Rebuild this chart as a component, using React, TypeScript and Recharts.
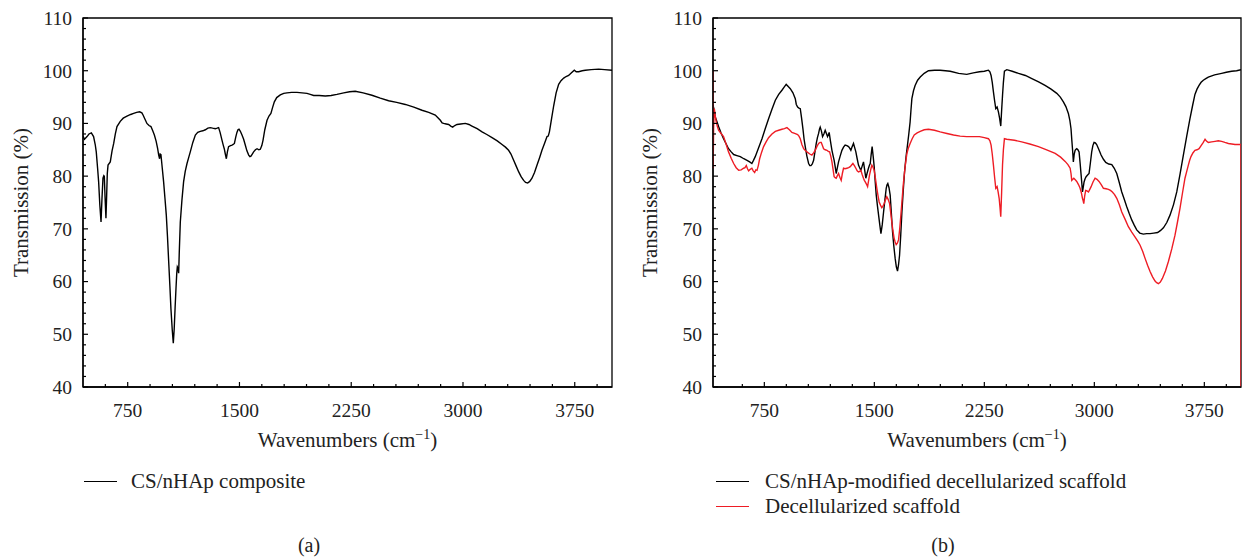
import React from 'react';
import { LineChart, Line, XAxis, YAxis, ReferenceArea } from 'recharts';

const FONT = '"Liberation Serif", "Times New Roman", Times, serif';
const TEXT = '#222';

// ---------- tick values ----------
const xTicks = [600, 750, 900, 1050, 1200, 1350, 1500, 1650, 1800, 1950, 2100, 2250, 2400, 2550, 2700, 2850, 3000, 3150, 3300, 3450, 3600, 3750, 3900];
const xMajorTicks = [750, 1500, 2250, 3000, 3750];
const yTicks = [40, 42, 44, 46, 48, 50, 52, 54, 56, 58, 60, 62, 64, 66, 68, 70, 72, 74, 76, 78, 80, 82, 84, 86, 88, 90, 92, 94, 96, 98, 100, 102, 104, 106, 108, 110];
const yMajorTicks = [40, 50, 60, 70, 80, 90, 100, 110];

// ---------- panel (a): CS/nHAp composite ----------
const compositeWavenumber = [
  450, 460, 477, 490, 506, 521, 532, 539, 548, 555, 563, 571, 577, 584, 590, 593, 598, 604, 609, 613, 618, 633, 645, 656, 667, 678, 700, 720, 745, 770, 790, 810, 830, 845, 853, 866, 879, 893, 906, 918, 929, 941, 951, 958, 964, 968, 973, 982, 991, 1000, 1009, 1017, 1025, 1033, 1040, 1049, 1056, 1062, 1068, 1074, 1079, 1083, 1088, 1092, 1096, 1103, 1114, 1125, 1136, 1148, 1160, 1170, 1187, 1204, 1220, 1237, 1254, 1271, 1288, 1304, 1320, 1338, 1350, 1360, 1370, 1383, 1392, 1398, 1405, 1412, 1419, 1427, 1440, 1450, 1458, 1466, 1475, 1483, 1490, 1497, 1506, 1517, 1528, 1539, 1550, 1562, 1570, 1577, 1586, 1595, 1607, 1618, 1630, 1640, 1650, 1658, 1670, 1685, 1698, 1711, 1722, 1734, 1750, 1774, 1797, 1819, 1850, 1886, 1920, 1953, 1975, 1998, 2035, 2076, 2115, 2154, 2200, 2239, 2277, 2330, 2389, 2445, 2501, 2555, 2613, 2670, 2725, 2770, 2814, 2835, 2848, 2860, 2870, 2887, 2904, 2918, 2931, 2945, 2960, 2985, 3016, 3040, 3060, 3095, 3128, 3160, 3195, 3230, 3262, 3285, 3306, 3322, 3340, 3357, 3374, 3390, 3407, 3420, 3434, 3448, 3463, 3480, 3497, 3514, 3530, 3547, 3564, 3572, 3580, 3595, 3609, 3625, 3642, 3658, 3676, 3692, 3709, 3728, 3747, 3760, 3776, 3800, 3821, 3860, 3911, 3950, 4000,
];
const compositeTransmission = [
  87.6, 87.0, 87.5, 88.0, 88.2, 87.5, 86.0, 84.6, 81.5, 78.9, 74.5, 71.3, 75.5, 79.6, 80.1, 80.0, 76.0, 72.0, 76.5, 80.5, 82.1, 82.7, 84.8, 86.2, 88.0, 89.4, 90.4, 91.0, 91.4, 91.7, 91.9, 92.1, 92.2, 92.0, 91.6, 90.8, 90.0, 89.6, 89.4, 88.6, 87.8, 86.6, 85.2, 84.0, 83.3, 84.2, 84.1, 81.5, 78.9, 75.8, 72.6, 68.5, 63.8, 59.2, 54.9, 50.8, 48.3, 51.0, 55.0, 58.7, 61.5, 62.8, 62.5, 61.6, 65.5, 71.3, 75.5, 78.9, 80.9, 82.4, 83.6, 84.6, 86.4, 87.8, 88.3, 88.5, 88.6, 88.8, 89.1, 89.2, 89.1, 89.0, 89.1, 89.2, 88.3, 86.8, 85.8, 85.2, 84.2, 83.3, 84.6, 85.6, 85.8, 85.9, 86.0, 86.2, 87.4, 88.3, 88.8, 88.9, 88.5, 87.8, 87.0, 85.9, 84.8, 84.0, 83.7, 83.8, 84.2, 84.6, 85.0, 85.2, 85.0, 85.1, 85.8, 86.8, 88.8, 90.6, 91.4, 91.9, 93.0, 94.1, 94.9, 95.4, 95.7, 95.8, 95.9, 95.9, 95.8, 95.7, 95.5, 95.3, 95.3, 95.2, 95.3, 95.5, 95.8, 96.0, 96.1, 95.8, 95.35, 94.8, 94.3, 94.0, 93.6, 93.1, 92.5, 92.1, 91.6, 91.0, 90.6, 90.1, 90.0, 89.9, 89.8, 89.5, 89.3, 89.6, 89.8, 89.9, 90.0, 89.8, 89.5, 89.0, 88.4, 87.9, 87.3, 86.7, 86.0, 85.5, 84.9, 84.2, 83.0, 81.9, 80.8, 79.9, 79.2, 78.8, 78.7, 79.0, 79.6, 80.7, 82.1, 83.5, 84.9, 86.2, 87.5, 87.6, 88.4, 91.0, 93.4, 95.8, 97.4, 98.1, 98.6, 98.9, 99.1, 99.6, 100.1, 99.8, 99.8, 100.0, 100.1, 100.2, 100.3, 100.2, 100.1,
];

// ---------- panel (b): CS/nHAp-modified decellularized scaffold ----------
const modifiedWavenumber = [
  400, 408, 416, 427, 438, 455, 472, 490, 506, 524, 541, 563, 586, 610, 632, 650, 665, 676, 688, 711, 734, 756, 779, 802, 825, 848, 870, 885, 899, 913, 927, 945, 961, 968, 977, 986, 995, 1004, 1013, 1021, 1029, 1040, 1052, 1060, 1068, 1077, 1086, 1095, 1104, 1112, 1120, 1126, 1131, 1139, 1147, 1156, 1165, 1172, 1181, 1187, 1192, 1200, 1211, 1218, 1226, 1233, 1240, 1248, 1256, 1267, 1279, 1290, 1301, 1313, 1324, 1332, 1340, 1349, 1358, 1366, 1374, 1383, 1392, 1400, 1408, 1417, 1426, 1434, 1442, 1451, 1460, 1466, 1472, 1478, 1485, 1492, 1499, 1506, 1513, 1521, 1529, 1537, 1545, 1554, 1563, 1572, 1581, 1586, 1592, 1600, 1608, 1616, 1624, 1633, 1642, 1650, 1658, 1665, 1672, 1680, 1688, 1697, 1706, 1716, 1726, 1735, 1744, 1750, 1756, 1767, 1778, 1795, 1813, 1840, 1869, 1910, 1949, 1985, 2017, 2075, 2130, 2175, 2217, 2250, 2278, 2288, 2296, 2304, 2312, 2320, 2328, 2337, 2346, 2354, 2362, 2368, 2374, 2380, 2387, 2403, 2440, 2483, 2530, 2574, 2620, 2664, 2705, 2744, 2768, 2789, 2806, 2823, 2833, 2841, 2846, 2851, 2854, 2857, 2863, 2869, 2875, 2880, 2888, 2896, 2903, 2910, 2915, 2919, 2924, 2930, 2937, 2944, 2954, 2964, 2973, 2982, 2990, 2998, 3007, 3016, 3030, 3046, 3062, 3078, 3098, 3119, 3136, 3153, 3170, 3187, 3204, 3221, 3238, 3255, 3272, 3289, 3310, 3334, 3357, 3380, 3405, 3432, 3452, 3471, 3494, 3516, 3540, 3562, 3585, 3607, 3630, 3652, 3670, 3686, 3700, 3714, 3728, 3743, 3760, 3777, 3820, 3868, 3900, 3936, 3970, 4000,
];
const modifiedTransmission = [
  93.5, 92.5, 91.2, 90.3, 89.4, 88.2, 87.1, 86.1, 85.2, 84.6, 84.1, 83.9, 83.7, 83.3, 83.0, 82.7, 82.4, 83.0, 83.7, 85.4, 87.1, 89.0, 90.9, 92.7, 94.4, 95.5, 96.3, 96.9, 97.4, 97.0, 96.6, 95.8, 94.7, 93.6, 93.1, 92.9, 92.8, 91.0, 89.0, 87.0, 85.6, 83.8, 82.4, 82.0, 82.0, 82.3, 83.0, 84.6, 86.2, 87.3, 88.1, 88.9, 89.3, 88.6, 87.5, 88.0, 88.7, 88.2, 87.5, 87.9, 88.3, 86.8, 84.9, 84.0, 83.0, 81.8, 80.5, 81.6, 82.7, 83.8, 84.9, 85.5, 85.9, 85.8, 85.6, 85.3, 84.9, 85.6, 86.2, 85.4, 84.6, 83.3, 82.1, 81.6, 81.1, 81.9, 82.7, 81.2, 79.6, 80.6, 81.5, 82.0, 82.4, 84.0, 85.6, 83.8, 81.8, 79.0, 76.4, 74.4, 72.6, 70.8, 69.1, 70.8, 73.2, 75.5, 77.7, 78.3, 78.6, 77.8, 76.4, 73.0, 69.5, 66.7, 64.4, 62.8, 62.0, 63.2, 65.0, 68.8, 73.2, 77.2, 80.8, 83.6, 85.9, 88.0, 90.3, 92.6, 94.7, 96.2, 97.2, 98.2, 98.8, 99.5, 100.0, 100.1, 100.1, 100.0, 99.9, 99.5, 99.3, 99.6, 99.8, 99.9, 100.1, 99.8, 99.1, 97.8, 96.0, 94.3, 92.8, 93.1, 92.2, 91.0, 89.5, 92.5, 95.3, 97.8, 99.9, 100.2, 99.9, 99.5, 99.1, 98.5, 97.9, 97.2, 96.5, 95.7, 95.0, 94.1, 93.2, 91.9, 90.6, 89.0, 87.0, 85.2, 84.0, 82.7, 84.2, 84.9, 85.1, 85.2, 85.0, 84.6, 82.5, 80.2, 78.5, 77.0, 77.8, 78.9, 79.5, 79.9, 80.2, 80.5, 82.5, 84.6, 85.8, 86.4, 86.3, 86.0, 85.1, 84.0, 83.2, 82.6, 82.3, 82.2, 81.5, 80.5, 78.8, 77.0, 75.6, 74.2, 72.9, 71.7, 70.7, 69.8, 69.2, 69.0, 69.1, 69.1, 69.2, 69.3, 69.7, 70.2, 71.2, 72.6, 74.6, 77.0, 80.5, 84.0, 87.6, 90.9, 93.4, 95.5, 96.5, 97.2, 97.8, 98.2, 98.5, 98.8, 99.2, 99.5, 99.7, 99.9, 100.0, 100.2,
];

// ---------- panel (b): decellularized scaffold ----------
const scaffoldWavenumber = [
  400, 401, 404, 409, 415, 422, 430, 438, 455, 472, 490, 506, 524, 541, 558, 575, 592, 609, 618, 627, 635, 643, 654, 665, 674, 684, 692, 700, 709, 718, 731, 745, 762, 779, 802, 825, 848, 870, 887, 904, 921, 938, 957, 977, 986, 995, 1006, 1018, 1031, 1045, 1060, 1074, 1086, 1097, 1108, 1120, 1130, 1138, 1146, 1154, 1165, 1177, 1186, 1195, 1203, 1211, 1219, 1226, 1233, 1240, 1248, 1256, 1265, 1274, 1282, 1290, 1300, 1313, 1325, 1336, 1345, 1354, 1364, 1374, 1383, 1392, 1400, 1408, 1417, 1426, 1432, 1438, 1446, 1454, 1460, 1467, 1475, 1483, 1491, 1499, 1508, 1517, 1525, 1533, 1542, 1551, 1559, 1567, 1576, 1585, 1594, 1604, 1611, 1619, 1627, 1635, 1642, 1649, 1657, 1665, 1673, 1681, 1690, 1699, 1710, 1722, 1733, 1744, 1758, 1772, 1792, 1813, 1840, 1869, 1910, 1949, 1995, 2040, 2085, 2130, 2175, 2217, 2250, 2278, 2288, 2296, 2304, 2312, 2320, 2328, 2337, 2344, 2351, 2357, 2362, 2368, 2374, 2380, 2387, 2403, 2455, 2505, 2560, 2619, 2675, 2733, 2770, 2801, 2820, 2835, 2841, 2846, 2853, 2860, 2870, 2880, 2892, 2903, 2912, 2919, 2924, 2928, 2934, 2941, 2950, 2960, 2969, 2978, 2991, 3005, 3018, 3032, 3047, 3062, 3080, 3096, 3110, 3123, 3138, 3153, 3170, 3187, 3210, 3232, 3255, 3277, 3295, 3312, 3330, 3346, 3363, 3380, 3397, 3414, 3425, 3437, 3450, 3464, 3485, 3505, 3528, 3550, 3567, 3584, 3601, 3618, 3630, 3641, 3650, 3659, 3672, 3686, 3700, 3714, 3728, 3743, 3755, 3766, 3777, 3800, 3823, 3845, 3868, 3890, 3914, 3937, 3959, 3980, 4000, 4000,
];
const scaffoldTransmission = [
  100.0, 81.5, 89.0, 92.8, 91.5, 90.3, 89.4, 88.7, 88.1, 87.5, 86.0, 84.6, 83.4, 82.4, 81.6, 81.1, 81.2, 81.5, 81.6, 82.0, 81.4, 81.0, 81.3, 81.5, 81.0, 80.7, 81.2, 81.1, 82.0, 83.3, 84.5, 85.6, 86.5, 87.3, 88.0, 88.5, 88.7, 88.9, 89.0, 89.2, 88.8, 88.3, 88.1, 87.9, 87.6, 87.1, 86.0, 85.2, 84.8, 84.5, 84.2, 84.0, 84.4, 84.9, 85.6, 86.2, 86.4, 86.4, 85.8, 85.2, 85.0, 84.9, 84.7, 84.6, 83.8, 82.7, 81.2, 79.9, 79.7, 79.6, 80.1, 80.5, 79.8, 79.2, 80.5, 81.5, 81.4, 81.5, 81.6, 81.8, 82.1, 82.4, 82.0, 81.5, 81.0, 80.8, 80.9, 81.1, 80.3, 79.6, 79.2, 78.9, 78.5, 78.0, 79.0, 80.2, 81.2, 82.1, 81.7, 81.1, 79.5, 77.7, 76.3, 75.1, 74.5, 74.0, 74.3, 74.8, 75.5, 76.1, 75.6, 74.8, 73.2, 71.3, 69.6, 68.2, 67.5, 67.0, 67.3, 67.9, 70.0, 72.6, 75.8, 78.9, 81.8, 84.3, 85.4, 86.2, 87.1, 87.8, 88.2, 88.5, 88.8, 88.9, 88.7, 88.4, 88.1, 87.8, 87.6, 87.5, 87.5, 87.5, 87.3, 87.1, 86.7, 85.9, 84.2, 82.1, 79.8, 77.7, 78.0, 77.0, 75.8, 74.0, 72.3, 77.0, 82.1, 85.0, 87.1, 87.0, 86.8, 86.5, 86.1, 85.6, 85.0, 84.3, 83.6, 82.8, 82.2, 81.5, 80.5, 79.2, 79.4, 79.6, 79.3, 79.0, 78.4, 77.7, 76.8, 75.8, 75.3, 74.8, 76.2, 77.3, 77.2, 77.0, 77.5, 78.0, 78.9, 79.6, 79.4, 79.0, 78.4, 77.7, 77.6, 77.5, 77.3, 77.0, 76.5, 75.8, 74.6, 73.2, 71.8, 70.4, 69.4, 68.5, 67.7, 66.9, 65.7, 64.4, 63.1, 61.9, 60.9, 60.1, 59.8, 59.6, 59.9, 60.6, 62.0, 63.8, 66.2, 68.8, 71.3, 73.9, 76.8, 79.6, 80.9, 82.1, 83.0, 83.7, 84.4, 84.9, 85.0, 85.2, 85.8, 86.4, 87.0, 86.6, 86.4, 86.5, 86.6, 86.7, 86.6, 86.4, 86.2, 86.1, 86.0, 86.0, 86.0, 40.0,
];

const legendA = ['CS/nHAp composite'];
const legendB = ['CS/nHAp-modified decellularized scaffold', 'Decellularized scaffold'];
const colorsB = ['#000000', '#ee1c24'];

const toPoints = (wn: number[], t: number[]) => wn.map((w, i) => ({ wn: w, t: t[i] }));

// ---------- geometry (chart-local) ----------
const CHART_H = 460;
const PLOT_TOP = 18;
const PLOT_LEFT = 83;
const PLOT_BOTTOM = 387;

const XTick = (p: any) => {
  const v = p.payload.value;
  const major = xMajorTicks.includes(v);
  return (
    <g>
      <line x1={p.x} x2={p.x} y1={PLOT_BOTTOM} y2={PLOT_BOTTOM - (major ? 5 : 3)} stroke="#000" strokeWidth={1.2} />
      {major && (
        <text x={p.x} y={PLOT_BOTTOM + 23} dy="0.35em" textAnchor="middle" fontSize={19.5} fontFamily={FONT} fill={TEXT}>
          {v}
        </text>
      )}
    </g>
  );
};

const YTick = (p: any) => {
  const v = p.payload.value;
  const major = yMajorTicks.includes(v);
  return (
    <g>
      <line x1={PLOT_LEFT} x2={PLOT_LEFT + (major ? 5 : 3)} y1={p.y} y2={p.y} stroke="#000" strokeWidth={1.2} />
      {major && (
        <text x={PLOT_LEFT - 11} y={p.y} dy="0.35em" textAnchor="end" fontSize={19.5} fontFamily={FONT} fill={TEXT}>
          {v}
        </text>
      )}
    </g>
  );
};

const XTitle = ({ centerX }: { centerX: number }) => (
  <text x={centerX} y={447} textAnchor="middle" fontSize={21} fontFamily={FONT} fill={TEXT}>
    Wavenumbers (cm
    <tspan dy={-8} fontSize={14}>−1</tspan>
    <tspan dy={8}>)</tspan>
  </text>
);

const YTitle = ({ centerX }: { centerX: number }) => (
  <text
    transform={`translate(${centerX},${(PLOT_TOP + PLOT_BOTTOM) / 2}) rotate(-90)`}
    dy="0.35em"
    textAnchor="middle"
    fontSize={21}
    fontFamily={FONT}
    fill={TEXT}
  >
    Transmission (%)
  </text>
);

type Series = { name: string; color: string; data: { wn: number; t: number }[] };

function Panel({ width, rightMargin, xMin, series, yTitleX }: { width: number; rightMargin: number; xMin: number; series: Series[]; yTitleX: number }) {
  const plotRight = width - rightMargin;
  return (
    <LineChart width={width} height={CHART_H} margin={{ top: PLOT_TOP, right: rightMargin, bottom: 13, left: 13 }}>
      <XAxis
        dataKey="wn"
        type="number"
        domain={[xMin, 4000]}
        ticks={xTicks}
        interval={0}
        allowDataOverflow
        height={60}
        axisLine={{ stroke: '#000', strokeWidth: 1.3 }}
        tickLine={false}
        tickSize={0}
        tick={(p: any) => <XTick {...p} />}
        label={<XTitle centerX={(PLOT_LEFT + plotRight) / 2} />}
      />
      <YAxis
        type="number"
        domain={[40, 110]}
        ticks={yTicks}
        interval={0}
        allowDataOverflow
        width={70}
        axisLine={{ stroke: '#000', strokeWidth: 1.3 }}
        tickLine={false}
        tickSize={0}
        tick={(p: any) => <YTick {...p} />}
        label={<YTitle centerX={yTitleX} />}
      />
      <ReferenceArea x1={xMin} x2={4000} y1={40} y2={110} fill="none" fillOpacity={0} stroke="#000" strokeWidth={1.3} ifOverflow="visible" />
      {series.map((s) => (
        <Line
          key={s.name}
          data={s.data}
          dataKey="t"
          name={s.name}
          type="linear"
          stroke={s.color}
          strokeWidth={1.4}
          dot={false}
          activeDot={false}
          isAnimationActive={false}
        />
      ))}
    </LineChart>
  );
}

const LegendRow = ({ left, top, color, label, gap }: { left: number; top: number; color: string; label: string; gap: number }) => (
  <div style={{ position: 'absolute', left, top: top - 12, height: 24, display: 'flex', alignItems: 'center', whiteSpace: 'nowrap' }}>
    <span style={{ display: 'inline-block', width: 33, height: 0, borderTop: `1.5px solid ${color}` }} />
    <span style={{ marginLeft: gap, fontSize: 21, lineHeight: '24px', fontFamily: FONT, color: TEXT }}>{label}</span>
  </div>
);

export default function App() {
  const seriesA: Series[] = [{ name: legendA[0], color: '#000000', data: toPoints(compositeWavenumber, compositeTransmission) }];
  const seriesB: Series[] = [
    { name: legendB[0], color: colorsB[0], data: toPoints(modifiedWavenumber, modifiedTransmission) },
    { name: legendB[1], color: colorsB[1], data: toPoints(scaffoldWavenumber, scaffoldTransmission) },
  ];
  return (
    <div style={{ position: 'absolute', left: 0, top: 0, width: 1242, height: 558, background: '#fff', overflow: 'hidden', fontFamily: FONT }}>
      <div style={{ position: 'absolute', left: 0, top: 0 }}>
        <Panel width={620} rightMargin={8} xMin={450} series={seriesA} yTitleX={21} />
      </div>
      <div style={{ position: 'absolute', left: 630, top: 0 }}>
        <Panel width={612} rightMargin={1} xMin={400} series={seriesB} yTitleX={20} />
      </div>
      <LegendRow left={84} top={481} color="#000" label={legendA[0]} gap={14} />
      <LegendRow left={716} top={481} color={colorsB[0]} label={legendB[0]} gap={16} />
      <LegendRow left={716} top={506} color={colorsB[1]} label={legendB[1]} gap={16} />
      <div style={{ position: 'absolute', left: 309, top: 545, transform: 'translate(-50%,-50%)', fontSize: 20, fontFamily: FONT, color: TEXT }}>(a)</div>
      <div style={{ position: 'absolute', left: 943, top: 545, transform: 'translate(-50%,-50%)', fontSize: 20, fontFamily: FONT, color: TEXT }}>(b)</div>
    </div>
  );
}
